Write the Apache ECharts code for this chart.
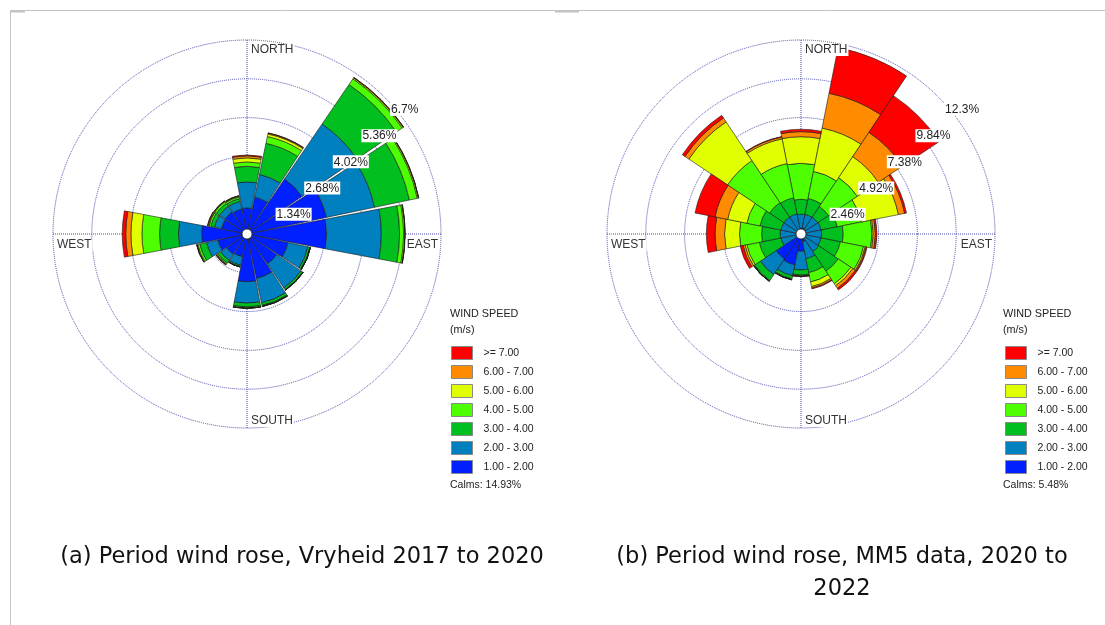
<!DOCTYPE html>
<html>
<head>
<meta charset="utf-8">
<script src="https://cdn.jsdelivr.net/npm/echarts@6/dist/echarts.min.js"></script>
<style>
html,body{margin:0;padding:0;background:#fff;}
#c{width:1105px;height:625px;}
</style>
</head>
<body>
<div id="c"></div>
<script>
// ---------- data ----------
const directions = ['N','NNE','NE','ENE','E','ESE','SE','SSE','S','SSW','SW','WSW','W','WNW','NW','NNW'];
const speedClasses = ['1.00 - 2.00','2.00 - 3.00','3.00 - 4.00','4.00 - 5.00','5.00 - 6.00','6.00 - 7.00','>= 7.00'];

// Rose (a): Vryheid 2017-2020, frequency (%) per speed class and direction
const a_1to2  = [0.90,1.30,2.30,2.80,2.75,1.45,1.25,1.57,1.65,0.80,0.85,1.03,1.57,0.90,0.92,0.88];
const a_2to3  = [0.90,0.80,2.30,1.70,1.89,0.70,1.01,0.86,0.74,0.30,0.25,0.40,0.80,0.25,0.23,0.27];
const a_3to4  = [0.54,1.10,1.65,1.23,0.63,0.07,0.07,0.09,0.13,0.05,0.12,0.24,0.65,0.13,0.13,0.10];
const a_4to5  = [0.15,0.24,0.24,0.28,0.14,0.02,0.02,0.03,0.04,0.01,0.04,0.07,0.61,0.06,0.07,0.06];
const a_5to6  = [0.14,0.09,0.04,0.04,0.04,0.00,0.00,0.01,0.01,0.00,0.02,0.03,0.38,0.03,0.02,0.03];
const a_6to7  = [0.07,0.03,0.02,0.01,0.01,0.00,0.00,0.00,0.00,0.00,0.01,0.01,0.18,0.02,0.01,0.01];
const a_7plus = [0.03,0.01,0.00,0.00,0.00,0.00,0.00,0.00,0.00,0.00,0.01,0.00,0.12,0.01,0.00,0.00];
const aTickLabels = ['1.34%','2.68%','4.02%','5.36%','6.7%'];
const aStep = 1.34, aMax = 6.7;
const aCalms = 'Calms: 14.93%';

// Rose (b): MM5 data 2020-2022
const b_1to2  = [0.36,0.40,0.35,0.30,0.30,0.30,0.30,0.50,1.10,2.00,1.90,0.30,0.30,0.30,0.30,0.30];
const b_2to3  = [0.89,0.87,0.93,1.00,1.01,1.00,1.05,1.10,1.18,0.70,1.20,1.00,1.03,1.00,1.00,1.00];
const b_3to4  = [0.95,1.03,0.82,1.05,1.37,1.25,1.49,0.90,0.32,0.20,0.45,1.40,1.17,1.35,1.10,1.05];
const b_4to5  = [2.28,1.75,2.20,1.55,1.82,1.50,0.96,0.60,0.05,0.06,0.05,0.80,1.40,0.85,3.20,2.20];
const b_5to6  = [1.69,2.80,1.60,2.40,0.08,0.10,0.15,0.30,0.03,0.00,0.01,0.12,0.95,1.24,2.95,1.60];
const b_6to7  = [0.32,2.25,1.85,0.40,0.14,0.07,0.20,0.10,0.02,0.00,0.00,0.13,0.60,0.82,0.30,0.12];
const b_7plus = [0.15,2.95,2.80,0.12,0.10,0.05,0.12,0.05,0.01,0.00,0.00,0.18,0.55,1.29,0.20,0.03];
const bTickLabels = ['2.46%','4.92%','7.38%','9.84%','12.3%'];
const bStep = 2.46, bMax = 12.3;
const bCalms = 'Calms: 5.48%';

const compassLabels = ['NORTH','EAST','SOUTH','WEST'];
const captionA = '(a) Period wind rose, Vryheid 2017 to 2020';
const captionB1 = '(b) Period wind rose, MM5 data, 2020 to';
const captionB2 = '2022';

// ---------- style ----------
const classColors = ['#0020ff','#0080bf','#00bf1f','#4dff00','#e0ff00','#ff8c00','#ff0000'];
const FONT = '"Liberation Sans", Arial, sans-serif';
const gridColor = '#4a4ab0';
const R = 194;
const centerA = [247, 234];
const centerB = [801, 234];

const seriesA = [a_1to2,a_2to3,a_3to4,a_4to5,a_5to6,a_6to7,a_7plus];
const seriesB = [b_1to2,b_2to3,b_3to4,b_4to5,b_5to6,b_6to7,b_7plus];

function polarSet(center) {
  return [
    {center: center, radius: R},
    {center: center, radius: R},
    {center: center, radius: R}
  ];
}

function angleAxes(base) {
  return [
    {polarIndex: base, type: 'category', data: directions, startAngle: 101.25, clockwise: true,
     boundaryGap: true, axisLine: {show: false}, axisTick: {show: false}, axisLabel: {show: false},
     splitLine: {show: false}},
    {polarIndex: base + 1, type: 'value', min: 0, max: 360, interval: 90, startAngle: 90,
     axisLine: {show: false}, axisTick: {show: false}, axisLabel: {show: false},
     splitLine: {show: true, lineStyle: {color: gridColor, width: 1, type: 'dotted'}}},
    {polarIndex: base + 2, type: 'value', min: 0, max: 360, startAngle: 42.5,
     axisLine: {show: false}, axisTick: {show: false}, axisLabel: {show: false},
     splitLine: {show: false}}
  ];
}

function radiusAxes(base, max, step, labels) {
  return [
    {polarIndex: base, type: 'value', min: 0, max: max, interval: step,
     axisLine: {show: false}, axisTick: {show: false}, axisLabel: {show: false},
     splitLine: {show: true, lineStyle: {color: gridColor, width: 1, type: 'dotted'}}},
    {polarIndex: base + 1, type: 'value', min: 0, max: 1,
     axisLine: {show: false}, axisTick: {show: false}, axisLabel: {show: false}, splitLine: {show: false}},
    {polarIndex: base + 2, type: 'value', min: 0, max: max, interval: step, z: 20,
     axisLine: {show: false}, axisTick: {show: false}, splitLine: {show: false},
     axisLabel: {show: true, showMinLabel: false, margin: 0, rotate: 0,
       align: 'left', verticalAlign: 'top',
       backgroundColor: '#fff', padding: [1, 1, 0, 1],
       fontFamily: FONT, fontSize: 12, color: '#222',
       formatter: function (v) {
         const i = Math.round(v / step) - 1;
         return i >= 0 && i < labels.length ? labels[i] : '';
       }}}
  ];
}

function barSeries(arrays, polarIndex, stack, gap) {
  return arrays.map(function (arr, k) {
    return {
      type: 'bar', coordinateSystem: 'polar', polarIndex: polarIndex,
      name: speedClasses[k], stack: stack, data: arr,
      barCategoryGap: gap,
      itemStyle: {color: classColors[k], borderColor: '#1a1a1a', borderWidth: 0.6},
      emphasis: {disabled: true},
      silent: true, animation: false
    };
  });
}

function legendFor(left) {
  return {
    data: speedClasses.slice().reverse(),
    orient: 'vertical', left: left, top: 346, padding: 0,
    itemWidth: 21, itemHeight: 13, itemGap: 5,
    icon: 'rect', selectedMode: false,
    itemStyle: {borderColor: '#8a8a8a', borderWidth: 1},
    textStyle: {fontFamily: FONT, fontSize: 10.5, color: '#222', padding: [0, 0, 0, 6]}
  };
}

function compassGraphics(c) {
  const st = {fontFamily: FONT, fontSize: 12, fill: '#333', backgroundColor: '#fff', padding: [0, 1]};
  const cx = c[0], cy = c[1];
  return [
    {type: 'text', x: cx + 3, y: cy - R + 4, z: 50, style: Object.assign({text: compassLabels[0], align: 'left', verticalAlign: 'top'}, st)},
    {type: 'text', x: cx + R - 2, y: cy + 5, z: 50, style: Object.assign({text: compassLabels[1], align: 'right', verticalAlign: 'top'}, st)},
    {type: 'text', x: cx + 3, y: cy + R - 1, z: 50, style: Object.assign({text: compassLabels[2], align: 'left', verticalAlign: 'bottom'}, st)},
    {type: 'text', x: cx - R + 3, y: cy + 5, z: 50, style: Object.assign({text: compassLabels[3], align: 'left', verticalAlign: 'top'}, st)},
    {type: 'circle', shape: {cx: cx, cy: cy, r: 5}, z: 60, style: {fill: '#fff', stroke: '#222', lineWidth: 0.8}}
  ];
}

function legendTitles(left, calms) {
  const st = {fontFamily: FONT, fontSize: 10.8, fill: '#222'};
  return [
    {type: 'text', x: left, y: 309, style: Object.assign({text: 'WIND SPEED'}, st)},
    {type: 'text', x: left, y: 325, style: Object.assign({text: '(m/s)'}, st)},
    {type: 'text', x: left, y: 480, style: Object.assign({text: calms}, st, {fontSize: 10.5})}
  ];
}

const capStyle = {fontFamily: '"DejaVu Sans", sans-serif', fontSize: 22.5, fill: '#111', align: 'center', verticalAlign: 'middle'};

const option = {
  animation: false,
  backgroundColor: '#fff',
  polar: polarSet(centerA).concat(polarSet(centerB)),
  angleAxis: angleAxes(0).concat(angleAxes(3)),
  radiusAxis: radiusAxes(0, aMax, aStep, aTickLabels).concat(radiusAxes(3, bMax, bStep, bTickLabels)),
  legend: [legendFor(451), legendFor(1005)],
  series: barSeries(seriesA, 0, 'roseA', '5%').concat(barSeries(seriesB, 3, 'roseB', '0%')),
  graphic: [].concat(
    compassGraphics(centerA),
    compassGraphics(centerB),
    legendTitles(450, aCalms),
    legendTitles(1003, bCalms),
    [
      {type: 'text', x: 302, y: 557, style: Object.assign({text: captionA}, capStyle)},
      {type: 'text', x: 842, y: 557, style: Object.assign({text: captionB1}, capStyle)},
      {type: 'text', x: 842, y: 589, style: Object.assign({text: captionB2}, capStyle)},
      {type: 'line', shape: {x1: 10, y1: 10.5, x2: 1105, y2: 10.5}, style: {stroke: '#c3c3c3', lineWidth: 1}},
      {type: 'line', shape: {x1: 10.5, y1: 10, x2: 10.5, y2: 625}, style: {stroke: '#c3c3c3', lineWidth: 1}},
      {type: 'rect', shape: {x: 555, y: 11, width: 24, height: 1.5}, style: {fill: '#c3c3c3'}},
      {type: 'rect', shape: {x: 10, y: 11, width: 15, height: 1.5}, style: {fill: '#c3c3c3'}}
    ]
  )
};

const chart = echarts.init(document.getElementById('c'), null, {renderer: 'canvas'});
chart.setOption(option);
</script>
</body>
</html>
